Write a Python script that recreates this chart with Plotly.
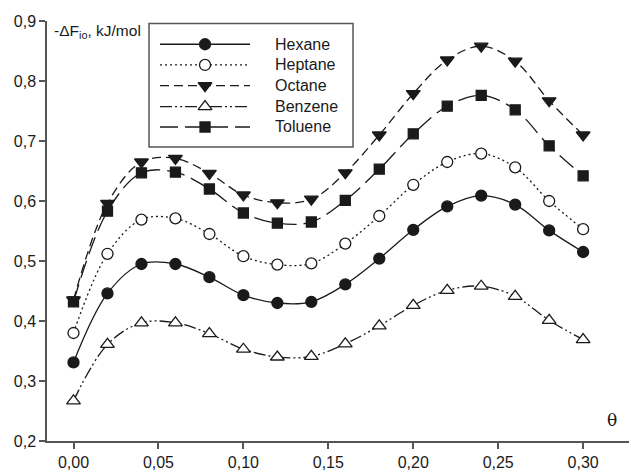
import plotly.graph_objects as go

theta = [0.00, 0.02, 0.04, 0.06, 0.08, 0.10, 0.12, 0.14, 0.16, 0.18, 0.20, 0.22, 0.24, 0.26, 0.28, 0.30]
hexane = [0.331, 0.446, 0.495, 0.495, 0.473, 0.443, 0.430, 0.432, 0.461, 0.504, 0.552, 0.591, 0.609, 0.594, 0.551, 0.515]
heptane = [0.380, 0.512, 0.569, 0.571, 0.545, 0.508, 0.494, 0.496, 0.529, 0.575, 0.627, 0.665, 0.679, 0.656, 0.600, 0.553]
octane = [0.435, 0.596, 0.665, 0.671, 0.646, 0.610, 0.597, 0.603, 0.647, 0.710, 0.779, 0.835, 0.858, 0.833, 0.767, 0.710]
benzene = [0.267, 0.361, 0.397, 0.397, 0.379, 0.353, 0.340, 0.341, 0.362, 0.392, 0.426, 0.451, 0.458, 0.441, 0.401, 0.369]
toluene = [0.432, 0.583, 0.647, 0.648, 0.620, 0.580, 0.563, 0.565, 0.601, 0.653, 0.712, 0.758, 0.776, 0.752, 0.692, 0.642]

names = ["Hexane", "Heptane", "Octane", "Benzene", "Toluene"]
values = [hexane, heptane, octane, benzene, toluene]

y_ticks = [0.2, 0.3, 0.4, 0.5, 0.6, 0.7, 0.8, 0.9]
y_ticktext = ["0,2", "0,3", "0,4", "0,5", "0,6", "0,7", "0,8", "0,9"]
x_ticks = [0.00, 0.05, 0.10, 0.15, 0.20, 0.25, 0.30]
x_ticktext = ["0,00", "0,05", "0,10", "0,15", "0,20", "0,25", "0,30"]

INK = "#1a1a1a"
AX = "#555555"
FONT = "Liberation Sans, Arial, sans-serif"

styles = {
    "Hexane": dict(dash="solid", symbol="circle", fill=INK, size=11),
    "Heptane": dict(dash="2px,3px", symbol="circle-open", fill="white", size=11),
    "Octane": dict(dash="9px,5px", symbol="triangle-down", fill=INK, size=12),
    "Benzene": dict(dash="12px,3px,2px,3px,2px,3px", symbol="triangle-up", fill="white", size=12),
    "Toluene": dict(dash="18px,7px", symbol="square", fill=INK, size=10),
}


def marker_for(st):
    sym = st["symbol"].replace("-open", "")
    return dict(symbol=sym, size=st["size"], color=st["fill"],
                line=dict(color=INK, width=1.3))


fig = go.Figure()

for name, vals in zip(names, values):
    st = styles[name]
    fig.add_trace(go.Scatter(
        x=theta, y=vals, mode="lines+markers", name=name,
        line=dict(color=INK, width=1.3, dash=st["dash"], shape="spline", smoothing=1.0),
        marker=marker_for(st), showlegend=False, cliponaxis=False,
    ))

# Custom legend drawn on an auxiliary axis pair (pixel-like units inside the box)
leg_x0, leg_x1 = 0.1753, 0.5258
leg_y0, leg_y1 = 0.700, 0.994
row_y = [20.7, 41.4, 62.0, 83.0, 103.4]
for name, ry in zip(names, row_y):
    st = styles[name]
    fig.add_trace(go.Scatter(
        x=[11, 101], y=[ry, ry], mode="lines", xaxis="x2", yaxis="y2",
        line=dict(color=INK, width=1.3, dash=st["dash"]), showlegend=False, hoverinfo="skip",
    ))
    fig.add_trace(go.Scatter(
        x=[56], y=[ry], mode="markers", xaxis="x2", yaxis="y2",
        marker=marker_for(st), showlegend=False, hoverinfo="skip",
    ))
    fig.add_annotation(x=124, y=ry, xref="x2", yref="y2", text=name, showarrow=False,
                       xanchor="left", yanchor="middle",
                       font=dict(family=FONT, size=16, color=INK))

fig.add_shape(type="rect", xref="paper", yref="paper", x0=leg_x0, x1=leg_x1, y0=leg_y0, y1=leg_y1,
              line=dict(color=AX, width=1.5), fillcolor="rgba(0,0,0,0)")

fig.add_annotation(x=0.0086, y=0.9755, xref="paper", yref="paper",
                   text="-ΔF<sub>io</sub>, kJ/mol", showarrow=False, xanchor="left", yanchor="middle",
                   font=dict(family=FONT, size=15.5, color=INK))
fig.add_annotation(x=0.97, y=0.05, xref="paper", yref="paper",
                   text="θ", showarrow=False, xanchor="center", yanchor="middle",
                   font=dict(family="DejaVu Serif, serif", size=17, color=INK))

fig.update_layout(
    width=631, height=472, autosize=False,
    margin=dict(l=47, r=2, t=21, b=31),
    plot_bgcolor="white", paper_bgcolor="white",
    font=dict(family=FONT, size=16, color=INK),
    xaxis=dict(range=[-0.0156, 0.327], tickvals=x_ticks, ticktext=x_ticktext,
               showgrid=False, zeroline=False, showline=True, linecolor=AX, linewidth=1.5,
               ticks="outside", ticklen=6, tickwidth=1.5, tickcolor=AX),
    yaxis=dict(range=[0.2, 0.9], tickvals=y_ticks, ticktext=y_ticktext,
               showgrid=False, zeroline=False, showline=True, linecolor=AX, linewidth=1.5,
               ticks="outside", ticklen=6, tickwidth=1.5, tickcolor=AX),
    xaxis2=dict(domain=[leg_x0, leg_x1], anchor="y2", range=[0, 204], visible=False, fixedrange=True),
    yaxis2=dict(domain=[leg_y0, leg_y1], anchor="x2", range=[123.4, 0], visible=False, fixedrange=True),
)

fig.write_html("out.html")
